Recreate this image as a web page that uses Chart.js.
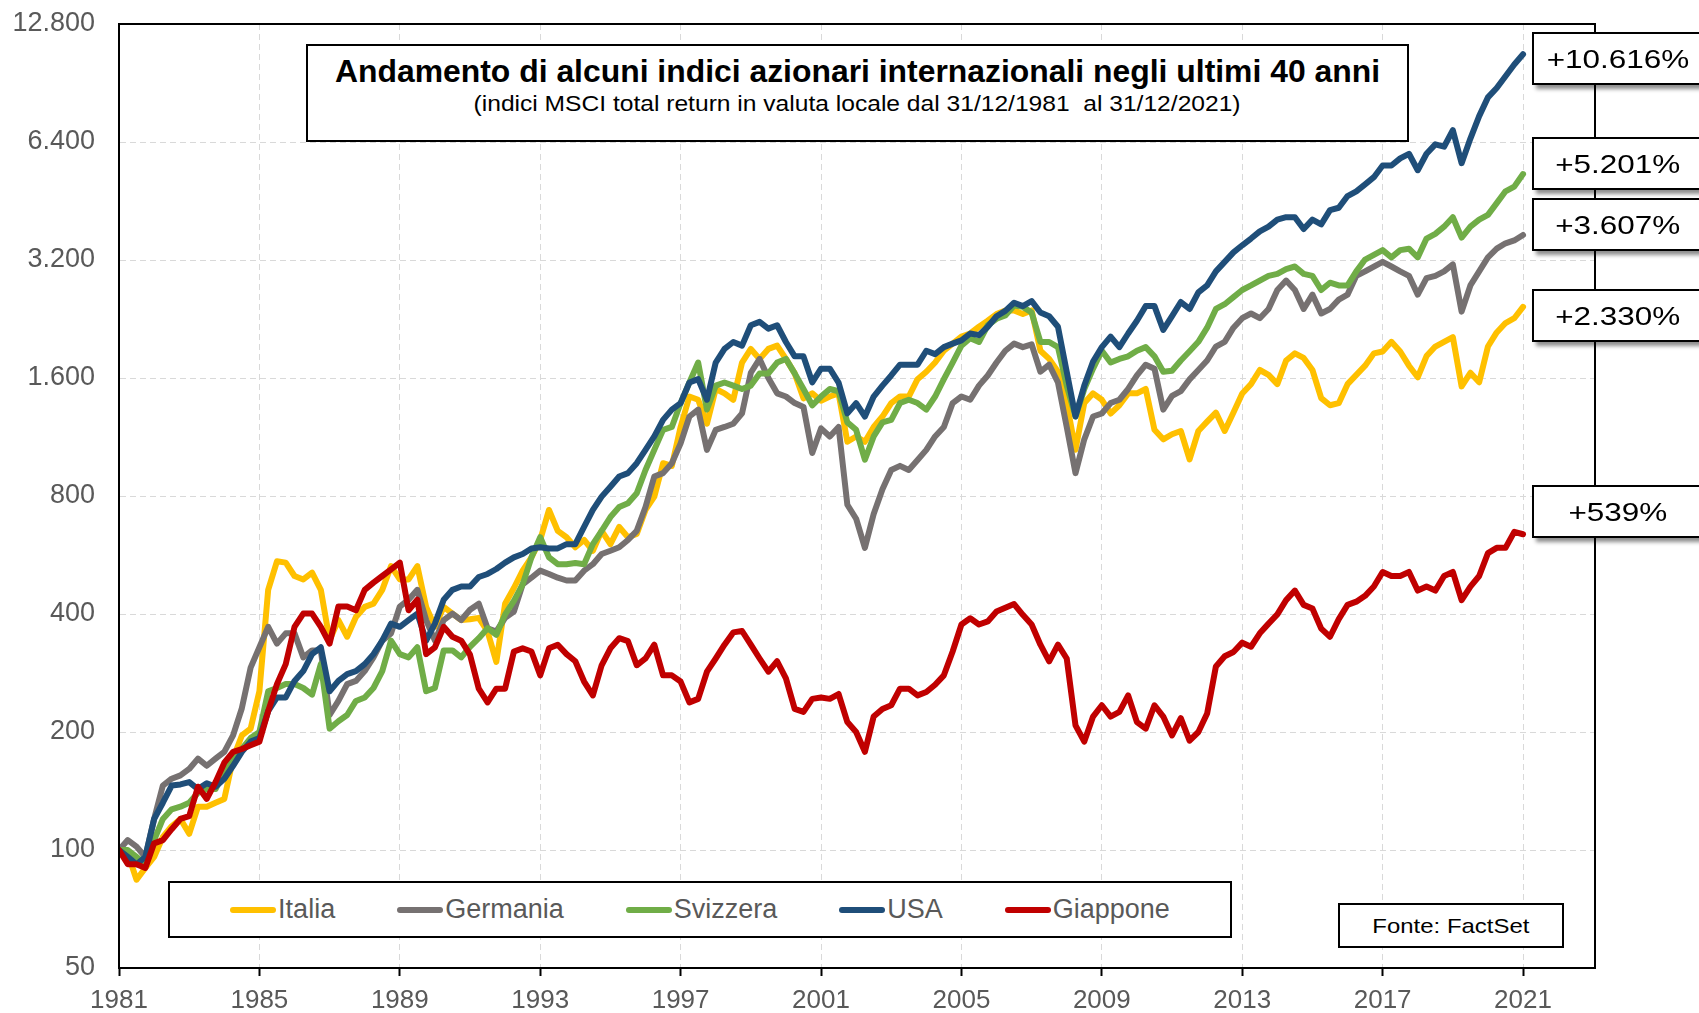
<!DOCTYPE html>
<html lang="it">
<head>
<meta charset="utf-8">
<title>Andamento di alcuni indici azionari internazionali</title>
<script src="https://cdn.jsdelivr.net/npm/chart.js@4.4.1/dist/chart.umd.min.js"></script>
<style>
html,body{margin:0;padding:0;background:#fff;}
#wrap{position:relative;width:1699px;height:1013px;overflow:hidden;font-family:"Liberation Sans",Arial,sans-serif;}
#c{position:absolute;left:0;top:0;}
.box{position:absolute;background:#fff;border:2px solid #000;box-sizing:border-box;}
.line{position:absolute;left:0;right:0;text-align:center;white-space:nowrap;}
.line span{display:inline-block;transform-origin:50% 50%;white-space:pre;}
.pct{box-shadow:4px 4px 4px rgba(0,0,0,0.45);}
.pct .line{font-size:26px;line-height:26px;color:#000;}
#legend{display:flex;justify-content:center;align-items:center;gap:62px;}
.li{display:flex;align-items:center;font-size:27px;color:#595959;}
.sw{width:46px;height:6px;border-radius:3px;margin-right:2px;}
</style>
</head>
<body>
<div id="wrap">
<canvas id="c" width="1699" height="1013"></canvas>
<div class="box" style="left:306px;top:44px;width:1103px;height:98px;">
  <div class="line" style="top:9px;font-size:32px;line-height:32px;font-weight:bold;color:#000;"><span id="t1">Andamento di alcuni indici azionari internazionali negli ultimi 40 anni</span></div>
  <div class="line" style="top:47px;font-size:22px;line-height:22px;color:#000;"><span id="t2">(indici MSCI total return in valuta locale dal 31/12/1981  al 31/12/2021)</span></div>
</div>
<div id="legend" class="box" style="left:168px;top:881px;width:1064px;height:57px;"></div>
<div class="box" style="left:1338px;top:903px;width:226px;height:45px;">
  <div class="line" style="top:10px;font-size:21px;line-height:21px;color:#000;"><span id="src">Fonte: FactSet</span></div>
</div>
<div id="pcts"></div>
</div>
<script>
// ---- data ----
const seriesNames = ['Italia', 'Germania', 'Svizzera', 'USA', 'Giappone'];
const seriesColors = ['#FFC000', '#767171', '#70AD47', '#1F4E79', '#C00000'];
const xTickYears = [1981, 1985, 1989, 1993, 1997, 2001, 2005, 2009, 2013, 2017, 2021];
const yTickValues = [50, 100, 200, 400, 800, 1600, 3200, 6400, 12800];
// quarterly observations, 1981.00 ... 2021.00
const dates = Array.from({length: 161}, (_, i) => 1981 + i / 4);

const italia = [100,98,84,90, 96,108,115,120, 110,129,129,132, 135,171,196,204,
 254,461,545,541, 500,490,510,461, 343,386,350,393, 417,425,461,530,
 490,490,530,417, 371,417,401,386, 388,391,361,302, 425,466,516,558,
 618,737,652,628, 592,618,580,652, 603,667,628,640, 737,797,970,955,
 1200,1435,1408,1223, 1500,1462,1408,1752, 1898,1790,1898,1935, 1790,1644,1420,1462,
 1400,1435,1462,1100, 1135,1100,1200,1276, 1381,1435,1435,1589, 1660,1752,1878,1958,
 2040,2078,2162,2240, 2330,2380,2380,2330, 2380,1878,1790,1660, 1381,1050,1381,1462,
 1408,1299,1363,1462, 1462,1500,1180,1116, 1150,1172,992,1172, 1238,1306,1172,1306,
 1461,1543,1677,1630, 1543,1773,1849,1800, 1677,1421,1363,1380, 1543,1630,1720,1849,
 1870,1979,1870,1720, 1607,1820,1925,1979, 2034,1523,1650,1560, 1925,2091,2210,2273,
 2430];
const germania = [100,106,102,96, 120,146,152,155, 161,171,164,171, 178,196,230,292,
 329,371,336,357, 357,310,323,323, 221,240,265,270, 286,310,342,357,
 418,435,461,386, 342,386,401,386, 410,425,368,361, 391,406,476,495,
 516,506,495,487, 487,516,536,569, 580,592,618,652, 750,897,915,970,
 1090,1276,1329,1049, 1180,1200,1223,1300, 1650,1790,1600,1462, 1435,1381,1350,1030,
 1190,1135,1200,760, 700,590,720,832, 932,955,932,988, 1049,1135,1200,1381,
 1435,1408,1530,1624, 1752,1878,1958,1918, 1950,1660,1730,1558, 1200,915,1116,1276,
 1299,1381,1408,1500, 1624,1730,1690,1329, 1440,1481,1587,1677, 1773,1925,1979,2150,
 2273,2337,2273,2400, 2683,2836,2683,2400, 2611,2337,2400,2535, 2611,2916,2993,3080,
 3165,3080,2993,2916, 2611,2876,2916,2993, 3120,2363,2756,2993, 3250,3420,3530,3590,
 3707];
const svizzera = [100,100,96,92, 106,120,127,129, 132,140,143,143, 158,171,181,193,
 200,254,259,265, 265,259,249,298, 204,213,221,240, 245,259,286,342,
 316,310,329,254, 259,323,323,310, 330,347,368,354, 399,432,476,558,
 628,558,536,536, 540,536,603,652, 707,750,767,813, 932,1049,1180,1200,
 1381,1558,1752,1329, 1530,1558,1530,1500, 1530,1644,1644,1752, 1790,1644,1500,1363,
 1435,1500,1480,1233, 1180,990,1135,1233, 1251,1381,1408,1381, 1329,1435,1589,1752,
 1935,2020,1977,2181, 2266,2310,2450,2430, 2350,1977,1977,1918, 1530,1276,1500,1690,
 1878,1752,1790,1817, 1878,1918,1817,1660, 1670,1773,1872,1979, 2150,2400,2468,2573,
 2683,2756,2836,2916, 2950,3035,3080,2950, 2916,2683,2800,2756, 2756,2993,3208,3298,
 3391,3250,3391,3420, 3250,3630,3732,3892, 4114,3650,3892,4056, 4172,4470,4790,4924,
 5301];
const usa = [100,96,92,96, 120,132,146,147, 149,143,148,145, 152,164,178,189,
 193,226,245,245, 270,286,316,329, 254,270,281,286, 298,316,342,378,
 371,386,401,342, 378,435,461,470, 470,497,506,521, 541,558,569,588,
 592,588,588,603, 603,667,737,797, 845,897,915,970, 1049,1135,1251,1329,
 1381,1558,1589,1408, 1752,1898,1977,1935, 2181,2225,2138,2181, 1977,1817,1817,1560,
 1690,1690,1558,1300, 1380,1276,1435,1530, 1624,1730,1730,1730, 1878,1841,1918,1958,
 1996,2078,2058,2162, 2300,2373,2490,2441, 2515,2350,2300,2162, 1660,1276,1530,1762,
 1918,2040,1918,2078, 2240,2441,2441,2122, 2300,2500,2400,2645, 2756,2993,3165,3347,
 3489,3630,3786,3892, 4056,4114,4114,3839, 4056,3946,4290,4350, 4659,4790,4990,5205,
 5574,5574,5812,5972, 5422,5972,6312,6225, 6857,5650,6529,7450, 8317,8793,9421,10094,
 10716];
const giappone = [100,92,92,90, 104,106,113,120, 122,145,135,149, 167,178,181,185,
 189,226,265,298, 371,401,401,371, 336,418,418,409, 461,481,500,520,
 541,409,435,316, 329,371,350,342, 315,258,238,258, 258,321,327,321,
 279,327,334,316, 303,269,248,296, 327,347,341,296, 308,334,279,279,
 269,238,243,285, 308,334,359,362, 334,308,285,303, 274,229,225,243,
 245,243,250,212, 200,178,219,229, 234,258,258,248, 253,264,279,321,
 376,390,376,383, 406,415,424,398, 376,334,303,334, 308,208,189,219,
 234,219,225,248, 212,204,234,219, 196,217,190,200, 223,294,312,320,
 338,330,357,378, 399,434,459,422, 413,367,350,388, 422,430,445,470,
 512,500,500,512, 459,470,459,500, 512,434,470,500, 572,590,590,648,
 639];
const seriesValues = [italia, germania, svizzera, usa, giappone];

// ---- helpers ----
const fmtIt = v => String(Math.round(v)).replace(/\B(?=(\d{3})+(?!\d))/g, '.');

Chart.defaults.font.family = "'Liberation Sans', Arial, sans-serif";

const framePlugin = {
  id: 'frame',
  afterDraw(c) {
    const a = c.chartArea, ctx = c.ctx;
    ctx.save();
    ctx.strokeStyle = '#000';
    ctx.lineWidth = 2;
    ctx.strokeRect(a.left, a.top, a.right - a.left, a.bottom - a.top);
    ctx.restore();
  }
};

const chart = new Chart(document.getElementById('c'), {
  type: 'line',
  data: {
    datasets: seriesNames.map((name, i) => ({
      label: name,
      data: dates.map((d, j) => ({x: d, y: seriesValues[i][j]})),
      borderColor: seriesColors[i],
      backgroundColor: seriesColors[i],
      borderWidth: 6,
      pointRadius: 0,
      tension: 0,
      fill: false,
      borderJoinStyle: 'round',
      borderCapStyle: 'round',
      order: seriesNames.length - 1 - i
    }))
  },
  options: {
    responsive: false,
    animation: false,
    devicePixelRatio: 1,
    layout: {padding: {left: 0, top: 24, right: 104, bottom: 0}},
    plugins: {legend: {display: false}, tooltip: {enabled: false}, title: {display: false}},
    scales: {
      x: {
        type: 'linear', min: 1981, max: 2023.05,
        afterBuildTicks: s => { s.ticks = xTickYears.map(v => ({value: v})); },
        afterFit: s => { s.height = 45; },
        ticks: {autoSkip: false, maxRotation: 0, color: '#595959', font: {size: 26}, padding: 9,
                callback: v => String(v)},
        grid: {color: '#D9D9D9', lineWidth: 1, tickLength: 8, tickColor: '#000', tickWidth: 2, tickBorderDash: []},
        border: {display: true, color: '#000', width: 2, dash: [6, 4]}
      },
      y: {
        type: 'logarithmic', min: 50, max: 12800,
        afterBuildTicks: s => { s.ticks = yTickValues.map(v => ({value: v})); },
        afterFit: s => { s.width = 119; },
        ticks: {autoSkip: false, color: '#595959', font: {size: 27}, padding: 0,
                callback: v => fmtIt(v)},
        grid: {color: '#D9D9D9', lineWidth: 1, drawTicks: true, tickLength: 24, tickColor: 'rgba(0,0,0,0)'},
        border: {display: true, color: '#000', width: 2, dash: [6, 4]}
      }
    }
  },
  plugins: [framePlugin]
});

// ---- HTML legend from the chart's datasets ----
const legend = document.getElementById('legend');
chart.data.datasets.forEach(ds => {
  const it = document.createElement('div');
  it.className = 'li';
  const sw = document.createElement('div');
  sw.className = 'sw';
  sw.style.background = ds.borderColor;
  const tx = document.createElement('span');
  tx.textContent = ds.label;
  it.appendChild(sw); it.appendChild(tx);
  legend.appendChild(it);
});

// ---- total return boxes (from the last value of each series) ----
const pctOrder = [3, 2, 1, 0, 4];
const pctTops = [32, 137, 198, 289, 485];
const pcts = document.getElementById('pcts');
pctOrder.forEach((si, k) => {
  const vals = seriesValues[si];
  const gain = vals[vals.length - 1] - 100;
  const b = document.createElement('div');
  b.className = 'box pct';
  b.style.cssText = `left:1532px;top:${pctTops[k]}px;width:172px;height:53px;`;
  b.innerHTML = `<div class="line" style="top:12px;"><span style="transform:scaleX(1.21)">+${fmtIt(gain)}%</span></div>`;
  pcts.appendChild(b);
});

function fit(id, target) {
  const el = document.getElementById(id);
  const w = el.getBoundingClientRect().width;
  el.style.transform = `scaleX(${target / w})`;
}
fit('t1', 1045);
fit('t2', 767);
fit('src', 157);
</script>
</body>
</html>
